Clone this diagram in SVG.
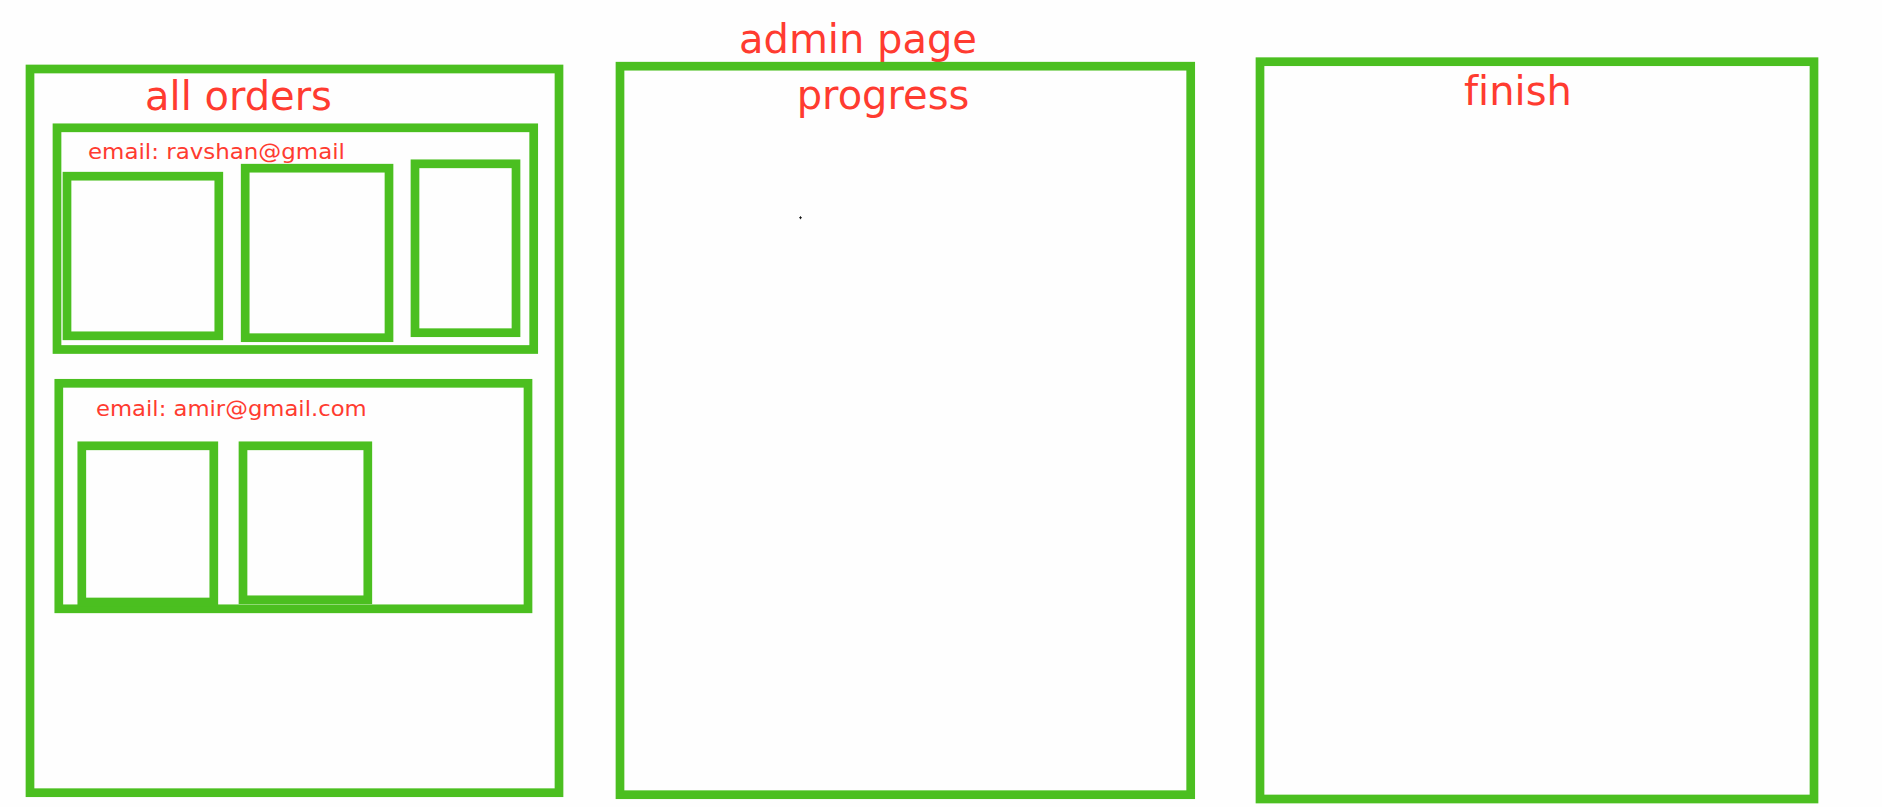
<svg xmlns="http://www.w3.org/2000/svg" width="1882" height="807" viewBox="0 0 1882 807">
  <style>
    .frame { fill: none; stroke: #4bbf20; stroke-width: 8.7; }
    .title { font-family: "DejaVu Sans", Verdana, sans-serif; font-size: 40px; fill: #ff3b30; font-variant-ligatures: none; }
    .label { font-family: "DejaVu Sans", Verdana, sans-serif; font-size: 21px; fill: #ff3b30; font-variant-ligatures: none; }
  </style>
  <rect x="0" y="0" width="1882" height="807" fill="#fefefe"/>

  <text id="page-title" class="title" x="739" y="53">admin page</text>

  <!-- column: all orders -->
  <g id="all-orders">
    <rect class="frame" x="30" y="69" width="529" height="723.7"/>
    <text class="title" x="145" y="110">all orders</text>
  </g>

  <g id="order-ravshan">
    <rect class="frame" x="57" y="127.8" width="476.7" height="221.7"/>
    <text class="label" x="88" y="158.7" textLength="257" lengthAdjust="spacingAndGlyphs">email: ravshan@gmail</text>
  </g>
  <g id="order-ravshan-item-1"><rect class="frame" x="67" y="176.2" width="151.8" height="159.6"/></g>
  <g id="order-ravshan-item-2"><rect class="frame" x="245.2" y="168.2" width="143.8" height="169.5"/></g>
  <g id="order-ravshan-item-3"><rect class="frame" x="415" y="163.8" width="101" height="168.9"/></g>

  <g id="order-amir">
    <rect class="frame" x="58.8" y="383.3" width="469.2" height="225.5"/>
    <text class="label" x="96" y="415.5" textLength="270.7" lengthAdjust="spacingAndGlyphs">email: amir@gmail.com</text>
  </g>
  <g id="order-amir-item-1"><rect class="frame" x="81.8" y="445.8" width="132" height="156.2"/></g>
  <g id="order-amir-item-2"><rect class="frame" x="243" y="445.8" width="124.8" height="154"/></g>

  <!-- column: progress -->
  <g id="progress">
    <rect class="frame" x="620" y="66.2" width="570.7" height="728.5"/>
    <text class="title" x="796.7" y="108.5">progress</text>
    <path d="M799 217.7h3M800.5 216.2v3" stroke="#000" stroke-width="0.8" fill="none"/>
  </g>

  <!-- column: finish -->
  <g id="finish">
    <rect class="frame" x="1260" y="61.7" width="554" height="737.3"/>
    <text class="title" x="1464" y="105.3">finish</text>
  </g>

  <g id="connectors"/>
</svg>
